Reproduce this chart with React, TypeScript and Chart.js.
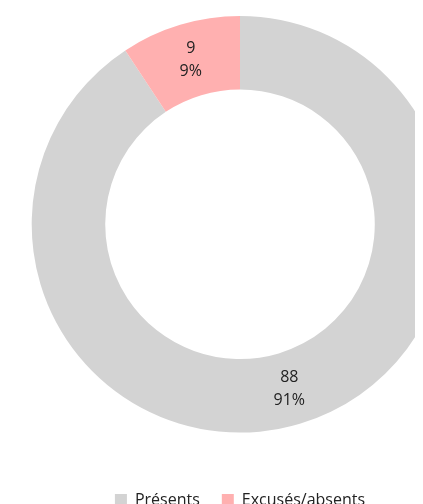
import React, { useEffect, useRef } from "react";
import { Chart, registerables } from "chart.js";

Chart.register(...registerables);

const categories = ["Présents", "Excusés/absents"];
const values = [88, 9];
const colors = ["#d3d3d3", "#ffb0b0"];

const FONT = "'Open Sans', 'DejaVu Sans', sans-serif";

const labelPlugin = {
  id: "arcLabels",
  afterDatasetsDraw(chart: any) {
    const ctx = chart.ctx;
    const meta = chart.getDatasetMeta(0);
    const data = chart.data.datasets[0].data as number[];
    const total = data.reduce((a, b) => a + b, 0);
    ctx.save();
    ctx.font = `16px ${FONT}`;
    ctx.fillStyle = "#222222";
    ctx.textAlign = "center";
    ctx.textBaseline = "middle";
    meta.data.forEach((el: any, i: number) => {
      const p = el.tooltipPosition();
      const pct = Math.round((data[i] / total) * 100) + "%";
      ctx.fillText(String(data[i]), p.x, p.y - 11.5);
      ctx.fillText(pct, p.x, p.y + 11.5);
    });
    ctx.restore();
  },
};

export default function App() {
  const ref = useRef<HTMLCanvasElement | null>(null);
  useEffect(() => {
    if (!ref.current) return;
    const chart = new Chart(ref.current, {
      type: "doughnut",
      data: {
        labels: categories,
        datasets: [
          {
            data: values,
            backgroundColor: colors,
            borderWidth: 0,
            hoverOffset: 0,
          },
        ],
      },
      options: {
        responsive: false,
        animation: false,
        cutout: "64.7%",
        layout: { padding: { top: 8, bottom: 0, left: 0, right: 0 } },
        plugins: {
          tooltip: { enabled: false },
          legend: {
            position: "bottom",
            title: {
              display: true,
              text: "",
              font: { size: 12, family: FONT },
              padding: { top: 23, bottom: 0 },
            },
            labels: {
              boxWidth: 12,
              boxHeight: 12,
              padding: 22,
              color: "#222222",
              font: { size: 16, family: FONT },
            },
          },
        },
      },
      plugins: [labelPlugin],
    });
    return () => chart.destroy();
  }, []);
  return (
    <canvas
      ref={ref}
      width={464}
      height={510}
      style={{ width: 464, height: 510, display: "block" }}
    />
  );
}
